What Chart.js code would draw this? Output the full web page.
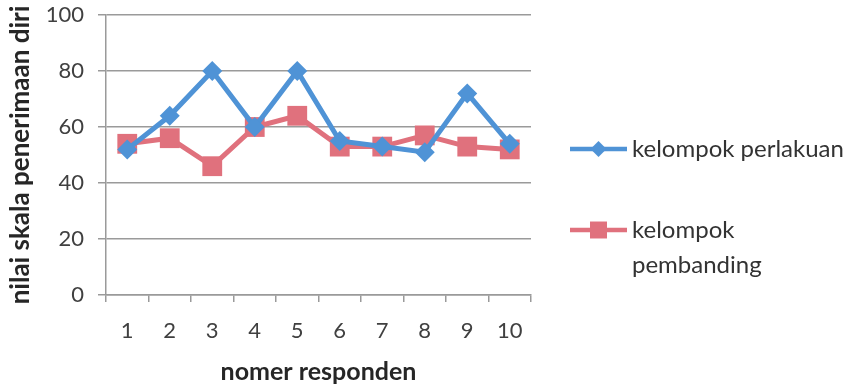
<!DOCTYPE html>
<html><head><meta charset="utf-8">
<script src="https://cdn.jsdelivr.net/npm/chart.js@4.4.1/dist/chart.umd.min.js"></script>
<style>html,body{margin:0;padding:0;background:#fff}#wrap{width:854px;height:388px;position:relative}</style>
</head><body><div id="wrap"><canvas id="c" width="854" height="388"></canvas></div>
<script>
const categories = ['1','2','3','4','5','6','7','8','9','10'];
const perlakuan = [52, 64, 80, 60, 80, 55, 53, 51, 72, 54];
const pembanding = [54, 56, 46, 60, 64, 53, 53, 57, 53, 52];
const yTicks = [0, 20, 40, 60, 80, 100];
const seriesNames = ['kelompok perlakuan', 'kelompok pembanding'];
const xTitle = 'nomer responden';
const yTitle = 'nilai skala penerimaan diri';

const FONT = 'Lato';
const BLUE = '#4f93d6';
const RED = '#e0717d';
const GRID = '#9a9a9a';

function drawMarker(ctx, style, x, y, r, color) {
  ctx.save();
  ctx.fillStyle = color;
  ctx.beginPath();
  if (style === 'rectRot') {
    ctx.moveTo(x, y - r); ctx.lineTo(x + r, y); ctx.lineTo(x, y + r); ctx.lineTo(x - r, y);
  } else {
    const s = Math.SQRT1_2 * r;
    ctx.rect(x - s, y - s, 2 * s, 2 * s);
  }
  ctx.closePath();
  ctx.fill();
  ctx.restore();
}

const sideLegend = {
  id: 'sideLegend',
  afterDraw(chart) {
    const ctx = chart.ctx;
    const ca = chart.chartArea;
    const lineX0 = ca.right + 39, lineX1 = ca.right + 96, textX = ca.right + 101;
    const rowsY = [ca.top + 134, ca.top + 215];
    const maxW = chart.width - textX - 2;
    ctx.save();
    ctx.font = '24px ' + FONT;
    ctx.textBaseline = 'middle';
    ctx.textAlign = 'left';
    chart.data.datasets.forEach((ds, i) => {
      const y = rowsY[i];
      ctx.strokeStyle = ds.borderColor;
      ctx.lineWidth = 4.5;
      ctx.beginPath(); ctx.moveTo(lineX0, y); ctx.lineTo(lineX1, y); ctx.stroke();
      drawMarker(ctx, ds.pointStyle, (lineX0 + lineX1) / 2, y, ds.pointStyle === 'rectRot' ? 8 : 12, ds.borderColor);
      const words = ds.label.split(' ');
      const lines = []; let cur = '';
      words.forEach(w => {
        const t = cur ? cur + ' ' + w : w;
        if (ctx.measureText(t).width > maxW && cur) { lines.push(cur); cur = w; } else cur = t;
      });
      lines.push(cur);
      ctx.fillStyle = '#333';
      lines.forEach((l, k) => ctx.fillText(l, textX, y + k * 35));
    });
    ctx.restore();
  }
};

new Chart(document.getElementById('c'), {
  type: 'line',
  data: {
    labels: categories,
    datasets: [
      { label: seriesNames[0], data: perlakuan, borderColor: BLUE, backgroundColor: BLUE,
        borderWidth: 5, pointStyle: 'rectRot', pointRadius: 10, pointBorderWidth: 0, tension: 0 },
      { label: seriesNames[1], data: pembanding, borderColor: RED, backgroundColor: RED,
        borderWidth: 5, pointStyle: 'rect', pointRadius: 14, pointBorderWidth: 0, tension: 0 }
    ]
  },
  options: {
    responsive: false, animation: false, devicePixelRatio: 1,
    layout: { padding: { top: 15, right: 323, left: 0, bottom: 0 } },
    plugins: { legend: { display: false }, tooltip: { enabled: false } },
    scales: {
      x: {
        offset: true,
        grid: { offset: true, drawOnChartArea: false, drawTicks: true, tickLength: 7, color: GRID, lineWidth: 1.5 },
        border: { color: GRID, width: 1.5 },
        ticks: { font: { family: FONT, size: 22 }, color: '#404040', padding: 16, maxRotation: 0 },
        title: { display: true, text: xTitle, font: { family: FONT, size: 25, weight: 'bold' }, color: '#262626', padding: { top: 0, bottom: 1 } },
        afterFit(s) { s.height = 93; s.paddingLeft = 0; s.paddingRight = 0; }
      },
      y: {
        min: 0, max: 100,
        afterBuildTicks(s) { s.ticks = yTicks.map(v => ({ value: v })); },
        grid: { color: GRID, lineWidth: 1.5, tickLength: 8 },
        border: { color: GRID, width: 1.5 },
        ticks: { font: { family: FONT, size: 22 }, color: '#404040', padding: 14 },
        title: { display: true, text: yTitle, font: { family: FONT, size: 26, weight: 'bold' }, color: '#262626', padding: { top: 5, bottom: 0 } },
        afterFit(s) { s.width = 106; s.paddingTop = 0; s.paddingBottom = 0; }
      }
    }
  },
  plugins: [sideLegend]
});
</script></body></html>
